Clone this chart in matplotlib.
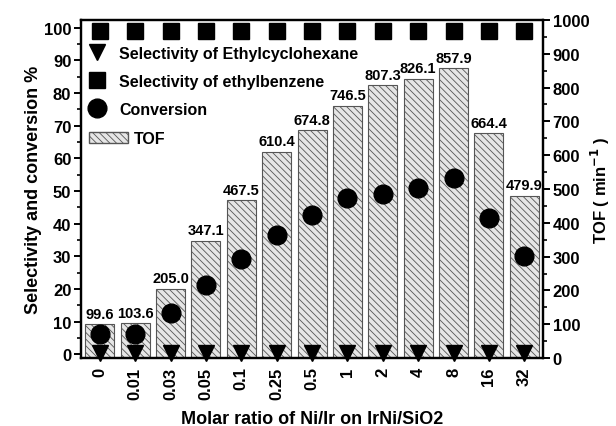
import numpy as np
import matplotlib.pyplot as plt
from matplotlib.patches import Patch
from matplotlib.lines import Line2D

plt.rcParams['font.family'] = ['Liberation Sans', 'DejaVu Sans']
plt.rcParams['font.weight'] = 'bold'
plt.rcParams['hatch.color'] = '#555555'
plt.rcParams['hatch.linewidth'] = 0.6

ratios = ['0', '0.01', '0.03', '0.05', '0.1', '0.25', '0.5', '1', '2', '4', '8', '16', '32']
tof = [99.6, 103.6, 205.0, 347.1, 467.5, 610.4, 674.8, 746.5, 807.3, 826.1, 857.9, 664.4, 479.9]
conversion = [6.3, 6.3, 12.7, 21.3, 29.3, 36.4, 42.5, 47.7, 49.2, 50.9, 54.1, 41.7, 30.1]
sel_ethylbenzene = [99, 99, 99, 99, 99, 99, 99, 99, 99, 99, 99, 99, 99]
sel_ethylcyclohexane = [0.5, 0.5, 0.5, 0.5, 0.5, 0.5, 0.5, 0.5, 0.5, 0.5, 0.5, 0.5, 0.5]

x = np.arange(len(ratios))

fig = plt.figure(figsize=(6.16, 4.27), dpi=100)
ax = fig.add_axes([0.1315, 0.159, 0.75, 0.792])
ax2 = ax.twinx()

# bars (TOF) on the right scale, drawn underneath
bars = ax.bar(x, tof, width=0.82, facecolor='#e6e6e6', edgecolor='#555555',
              hatch='\\\\\\\\\\', linewidth=0.8)
for xi, v in zip(x, tof):
    ax.text(xi, v + 10, f'{v:.1f}', ha='center', va='bottom', fontsize=10.5, fontweight='bold')
ax.set_ylim(0, 1000)
ax.yaxis.tick_right()
ax.yaxis.set_label_position('right')
ax.set_yticks(np.arange(0, 1001, 100))
ax.set_yticks(np.arange(50, 1001, 100), minor=True)
ax.set_ylabel('TOF ( min$^{-1}$ )', fontsize=12, fontweight='bold', labelpad=0)

# markers on the left scale
ax2.plot(x, sel_ethylcyclohexane, 'v', color='black', ms=12, clip_on=False, ls='none')
ax2.plot(x, sel_ethylbenzene, 's', color='black', ms=11, clip_on=False, ls='none')
ax2.plot(x, conversion, 'o', color='black', ms=13.5, clip_on=False, ls='none')
ax2.set_ylim(-1.2, 102.4)
ax2.yaxis.tick_left()
ax2.yaxis.set_label_position('left')
ax2.set_yticks(np.arange(0, 101, 10))
ax2.set_yticks(np.arange(5, 101, 10), minor=True)
ax2.set_ylabel('Selectivity and conversion %', fontsize=13, fontweight='bold', labelpad=1)

ax.set_xlim(-0.53, 12.53)
ax.set_xticks(x)
ax.set_xticklabels(ratios, rotation=90, fontsize=12, fontweight='bold')
ax.set_xlabel('Molar ratio of Ni/Ir on IrNi/SiO2', fontsize=13, fontweight='bold', labelpad=8)
ax.tick_params(axis='x', length=0, pad=6)

for a in (ax, ax2):
    for s in a.spines.values():
        s.set_linewidth(1.6)
    a.tick_params(axis='y', which='major', length=5, width=1.4, labelsize=12, pad=2)
    a.tick_params(axis='y', which='minor', length=3, width=1.2)
    for lab in a.get_yticklabels():
        lab.set_fontweight('bold')

# legend: markers sit at the left of the handle, TOF patch is wider
marker_handles = [
    Line2D([], [], marker='v', color='black', ls='none', ms=12),
    Line2D([], [], marker='s', color='black', ls='none', ms=11),
    Line2D([], [], marker='o', color='black', ls='none', ms=13.5),
]
marker_labels = ['Selectivity of Ethylcyclohexane', 'Selectivity of ethylbenzene', 'Conversion']
leg1 = ax2.legend(marker_handles, marker_labels, loc='center left', bbox_to_anchor=(-0.013, 0.818),
                  frameon=False, prop={'size': 11.5, 'weight': 'bold'}, labelspacing=0.82,
                  handlelength=1.0, handletextpad=0.85)
ax2.add_artist(leg1)
ax2.legend([Patch(facecolor='#e6e6e6', edgecolor='#555555', hatch='\\\\\\\\\\')], ['TOF'],
           loc='center left', bbox_to_anchor=(-0.013, 0.65), frameon=False,
           prop={'size': 11.5, 'weight': 'bold'}, handlelength=2.4, handletextpad=0.4)

fig.savefig('out.png', dpi=100)
